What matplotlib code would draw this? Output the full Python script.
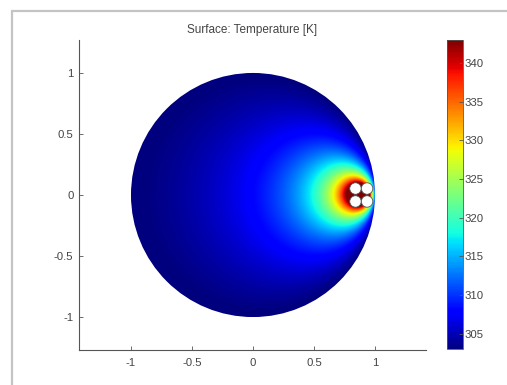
import numpy as np
import matplotlib
matplotlib.use('Agg')
import matplotlib.pyplot as plt
from matplotlib.patches import Circle, Rectangle

plt.rcParams['font.family'] = ['Liberation Sans', 'DejaVu Sans']

# temperature field settings
t_range = [303.0, 343.0]
source_xy = [0.885, 0.0]
source_gain = 41.5
reflect = 0.985
hole_x = [0.84, 0.935, 0.84, 0.935]
hole_y = [0.053, 0.053, -0.053, -0.053]
hole_r = [0.047, 0.047, 0.047, 0.047]
x_ticks = [-1, -0.5, 0, 0.5, 1]
y_ticks = [-1, -0.5, 0, 0.5, 1]
cbar_ticks = [305, 310, 315, 320, 325, 330, 335, 340]

# field on a grid, source with partial mirror image for the outer rim
n = 700
xs = np.linspace(-1, 1, n)
X, Y = np.meshgrid(xs, xs)
Z = X + 1j * Y
z0 = source_xy[0] + 1j * source_xy[1]
dist = np.abs(Z - z0)
dist[dist < 1e-6] = 1e-6
G = np.log(np.abs(1 - reflect * np.conj(z0) * Z) / dist)
T = np.clip(t_range[0] + source_gain * G, t_range[0], t_range[1])

fig = plt.figure(figsize=(5.07, 3.85), dpi=100)
fig.add_artist(Rectangle((12 / 507, -0.1), 1.2, (385 - 11) / 385 + 0.1,
                         transform=fig.transFigure, fill=False,
                         ec='#c4c4c4', lw=1.6))

ax = fig.add_axes([79 / 507, 35 / 385, 347 / 507, 310 / 385])
im = ax.imshow(T, extent=[-1, 1, -1, 1], origin='lower', cmap='jet',
               vmin=t_range[0], vmax=t_range[1], interpolation='bilinear')
disk = Circle((0, 0), 1.0, transform=ax.transData)
im.set_clip_path(disk)

for hx, hy, hr in zip(hole_x, hole_y, hole_r):
    ax.add_patch(Circle((hx, hy), hr, fc='white', ec='#555555', lw=0.6, zorder=3))

ax.set_xlim(-1.426, 1.418)
ax.set_ylim(-1.27, 1.27)
ax.set_aspect('auto')
ax.set_xticks(x_ticks)
ax.set_xticklabels(['-1', '-0.5', '0', '0.5', '1'])
ax.set_yticks(y_ticks)
ax.set_yticklabels(['-1', '-0.5', '0', '0.5', '1'])
for s in ['top', 'right']:
    ax.spines[s].set_visible(False)
for s in ['left', 'bottom']:
    ax.spines[s].set_color('#555555')
    ax.spines[s].set_linewidth(0.8)
ax.tick_params(direction='in', length=3, width=0.6, colors='#555555',
               labelcolor='#444444', labelsize=8.2, pad=4)
ax.tick_params(axis='x', pad=6)
ax.set_title('Surface: Temperature [K]', fontsize=8.5, color='#444444', pad=5)

cax = fig.add_axes([447 / 507, 36 / 385, 16 / 507, 309 / 385])
cb = fig.colorbar(im, cax=cax, ticks=cbar_ticks)
cb.outline.set_edgecolor('#555555')
cb.outline.set_linewidth(0.6)
cax.tick_params(direction='in', length=3, width=0.6, colors='#555555',
                labelcolor='#444444', labelsize=8.2, pad=1)

fig.savefig('out.png', dpi=100)
